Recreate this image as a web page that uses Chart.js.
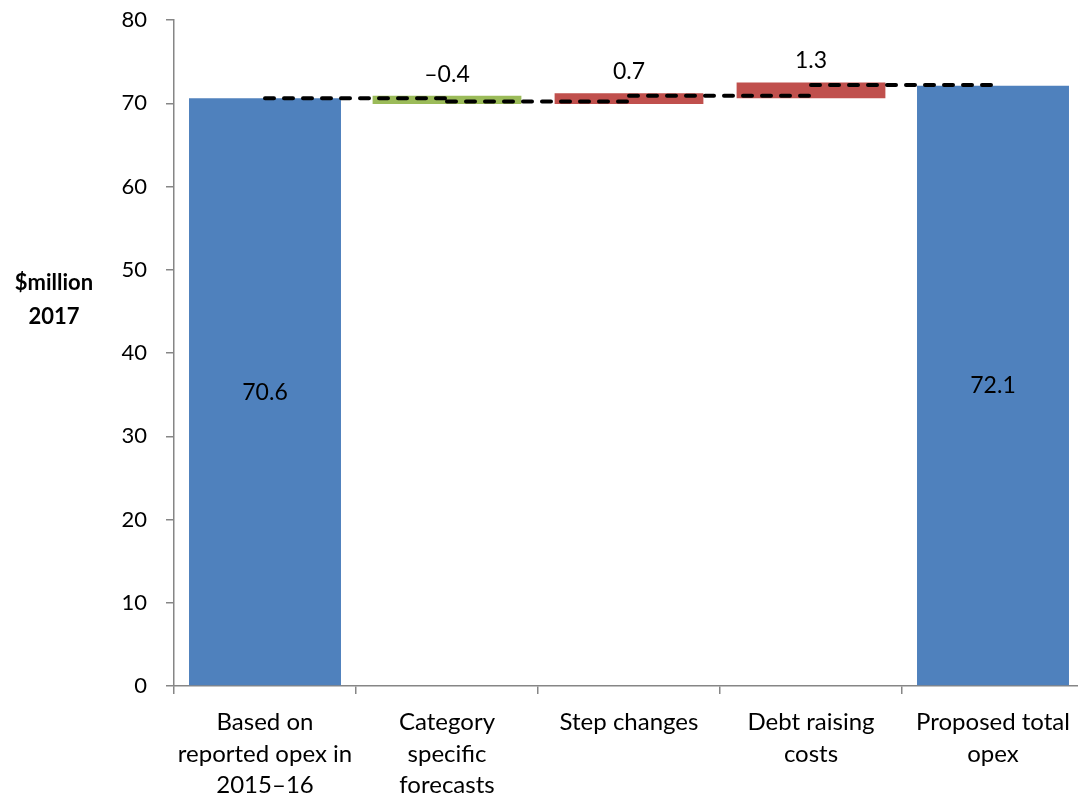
<!DOCTYPE html>
<html>
<head>
<meta charset="utf-8">
<script src="https://cdn.jsdelivr.net/npm/chart.js@4/dist/chart.umd.min.js"></script>
<style>
  html, body { margin: 0; padding: 0; background: #ffffff; overflow: hidden; }
  #wrap { width: 1084px; height: 798px; }
</style>
</head>
<body>
<div id="wrap"><canvas id="opex" width="1084" height="798"></canvas></div>
<script>
// Opex build-up, $million 2017
const categories = [
  ['Based on', 'reported opex in', '2015\u201316'],
  ['Category', 'specific', 'forecasts'],
  ['Step changes'],
  ['Debt raising', 'costs'],
  ['Proposed total', 'opex']
];
const baseOpex = 70.6;
const adjustments = [-0.4, 0.7, 1.3];
const totalOpex = 72.1;
const axisTitle = ['$million', '2017'];
const yTicks = { min: 0, max: 80, step: 10 };

const colBase = '#4F81BD';
const colDown = '#9BBB59';
const colUp = '#C0504D';

// Running level after each step of the build-up
const levels = [baseOpex];
adjustments.forEach(a => levels.push(+(levels[levels.length - 1] + a).toFixed(1)));

// Full-height columns at both ends, floating pieces in between
const totalRanges = [[0, baseOpex]].concat(adjustments.map(() => null), [[0, totalOpex]]);
const stepRanges = [null].concat(adjustments.map((a, i) => {
  const from = levels[i], to = levels[i + 1];
  return [Math.min(from, to), Math.max(from, to)];
}), [null]);
const stepColors = [null].concat(adjustments.map(a => a < 0 ? colDown : colUp), [null]);

// Connector lines: each running level runs from one category centre to the next
const connector = [];
levels.forEach((v, i) => {
  if (i > 0) connector.push({ x: i, y: null });
  connector.push({ x: i, y: v }, { x: i + 1, y: v });
});

const labelTexts = [baseOpex.toFixed(1)]
  .concat(adjustments.map(a => (a < 0 ? '\u2013' : '') + Math.abs(a).toFixed(1)))
  .concat([totalOpex.toFixed(1)]);

const FONT = 'Lato, "Open Sans", sans-serif';

const valueLabels = {
  id: 'valueLabels',
  afterDatasetsDraw(chart) {
    const ctx = chart.ctx;
    const x = chart.scales.x;
    const y = chart.scales.y;
    ctx.save();
    ctx.font = '23px ' + FONT;
    ctx.fillStyle = '#000000';
    ctx.textAlign = 'center';
    ctx.textBaseline = 'middle';
    labelTexts.forEach((t, i) => {
      let py;
      if (totalRanges[i]) {
        const r = totalRanges[i];
        py = (y.getPixelForValue(r[0]) + y.getPixelForValue(r[1])) / 2;
      } else {
        py = y.getPixelForValue(stepRanges[i][1]) - 24;
      }
      ctx.fillText(t, x.getPixelForValue(i), py);
    });
    ctx.restore();
  }
};

const sideTitle = {
  id: 'sideTitle',
  afterDraw(chart) {
    const ctx = chart.ctx;
    const a = chart.chartArea;
    ctx.save();
    ctx.font = 'bold 22px ' + FONT;
    ctx.fillStyle = '#000000';
    ctx.textAlign = 'center';
    ctx.textBaseline = 'middle';
    axisTitle.forEach((t, i) => ctx.fillText(t, a.left - 120, 283 + i * 34));
    ctx.restore();
  }
};

new Chart(document.getElementById('opex'), {
  data: {
    labels: categories,
    datasets: [
      {
        type: 'line',
        xAxisID: 'xl',
        data: connector,
        spanGaps: false,
        borderColor: '#000000',
        borderWidth: 4,
        borderDash: [9, 10],
        borderCapStyle: 'round',
        pointRadius: 0,
        fill: false,
        order: 0
      },
      {
        type: 'bar',
        data: stepRanges,
        backgroundColor: stepColors,
        borderWidth: 0,
        borderSkipped: false,
        inflateAmount: 2.5,
        barPercentage: 0.79,
        categoryPercentage: 1.0,
        grouped: false,
        order: 1
      },
      {
        type: 'bar',
        data: totalRanges,
        backgroundColor: colBase,
        borderWidth: 0,
        borderSkipped: false,
        inflateAmount: 0,
        barPercentage: 0.835,
        categoryPercentage: 1.0,
        grouped: false,
        order: 2
      }
    ]
  },
  options: {
    responsive: false,
    animation: false,
    layout: { padding: { top: 20, right: 0, left: 0, bottom: 0 } },
    plugins: {
      legend: { display: false },
      tooltip: { enabled: false }
    },
    scales: {
      x: {
        offset: true,
        grid: {
          offset: true,
          drawOnChartArea: false,
          drawTicks: true,
          tickLength: 8,
          color: '#868686',
          lineWidth: 1.5
        },
        border: { color: '#868686', width: 1.5 },
        ticks: {
          color: '#000000',
          font: { family: FONT, size: 24, lineHeight: 1.31 },
          padding: 13,
          maxRotation: 0,
          autoSkip: false
        },
        afterFit(scale) {
          scale.height = 112;
          scale.paddingLeft = 0;
          scale.paddingRight = 0;
        }
      },
      // hidden numeric axis spanning the same categories, used by the connector lines
      xl: {
        type: 'linear',
        position: 'bottom',
        display: false,
        min: -0.5,
        max: categories.length - 0.5
      },
      y: {
        min: yTicks.min,
        max: yTicks.max,
        grid: {
          drawOnChartArea: false,
          drawTicks: true,
          tickLength: 8,
          color: '#868686',
          lineWidth: 1.5
        },
        border: { color: '#868686', width: 1.5 },
        ticks: {
          stepSize: yTicks.step,
          color: '#000000',
          font: { family: FONT, size: 22 },
          padding: 19
        },
        afterFit(scale) {
          scale.width = 174;
          scale.paddingTop = 0;
          scale.paddingBottom = 0;
        }
      }
    }
  },
  plugins: [valueLabels, sideTitle]
});
</script>
</body>
</html>
